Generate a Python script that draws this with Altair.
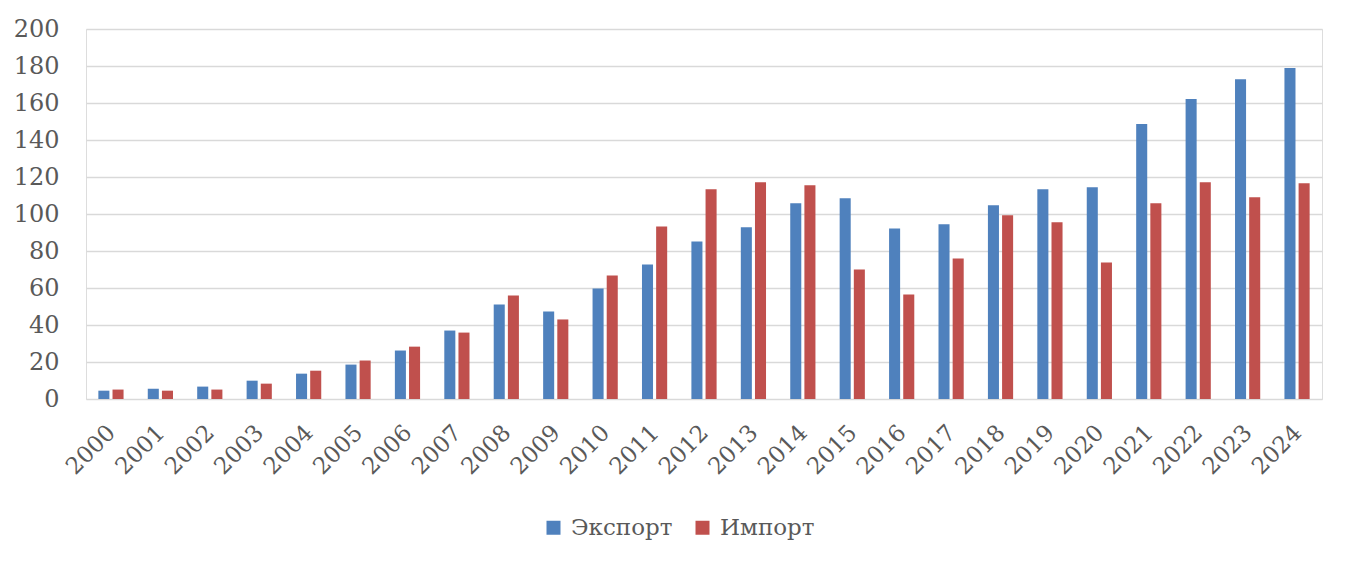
import altair as alt
import pandas as pd

years = [str(y) for y in range(2000, 2025)]
export_vals = [4.5, 5.6, 6.7, 9.9, 13.7, 18.6, 26.2, 37.0, 51.1, 47.3, 59.7, 72.7,
               85.2, 92.8, 105.8, 108.5, 92.2, 94.4, 104.7, 113.4, 114.4, 148.6,
               162.1, 172.9, 178.9]
import_vals = [5.1, 4.5, 5.1, 8.3, 15.3, 20.8, 28.3, 35.9, 56.0, 43.0, 66.8, 93.3,
               113.4, 117.1, 115.5, 70.0, 56.5, 76.0, 99.3, 95.5, 73.8, 105.8,
               117.1, 109.0, 116.6]
series = ["Экспорт", "Импорт"]
colors = ["#4F81BD", "#C0504D"]
y_ticks = list(range(0, 201, 20))

rows = []
for i, yr in enumerate(years):
    rows.append({"year": yr, "series": series[0], "value": export_vals[i]})
    rows.append({"year": yr, "series": series[1], "value": import_vals[i]})
df = pd.DataFrame(rows)

FONT = "DejaVu Serif"
TXT = "#595959"

chart = alt.Chart(df).mark_bar().encode(
    x=alt.X("year:N", sort=years, title=None,
            scale=alt.Scale(paddingInner=0.49, paddingOuter=0.25),
            axis=alt.Axis(labelAngle=-45, labelFontSize=23, labelFont=FONT,
                          labelColor=TXT, ticks=False, domain=False,
                          labelAlign="right", labelBaseline="top",
                          labelPadding=22, labelOffset=-7, grid=False)),
    xOffset=alt.XOffset("series:N", sort=series,
                        scale=alt.Scale(paddingInner=0.22, paddingOuter=0)),
    y=alt.Y("value:Q", title=None,
            scale=alt.Scale(domain=[0, 200], nice=False),
            axis=alt.Axis(values=y_ticks, labelFontSize=24, labelFont=FONT,
                          labelColor=TXT, ticks=False, domain=False,
                          labelPadding=27, gridColor="#D9D9D9", gridWidth=1.5)),
    color=alt.Color("series:N", sort=series,
                    scale=alt.Scale(domain=series, range=colors),
                    legend=alt.Legend(title=None, orient="none", direction="horizontal",
                                      legendX=456, legendY=487,
                                      symbolType="square", symbolSize=196,
                                      symbolStrokeWidth=0,
                                      labelFontSize=23, labelFont=FONT,
                                      labelColor=TXT, labelOffset=6,
                                      columnPadding=18)),
).properties(
    width=1236, height=370,
    padding={"left": 78, "top": 21, "right": 21, "bottom": 160},
    autosize=alt.AutoSizeParams(type="none"),
).configure_view(stroke=None).configure(background="white")

chart.save("out.html", embed_options={"renderer": "svg", "actions": False})
